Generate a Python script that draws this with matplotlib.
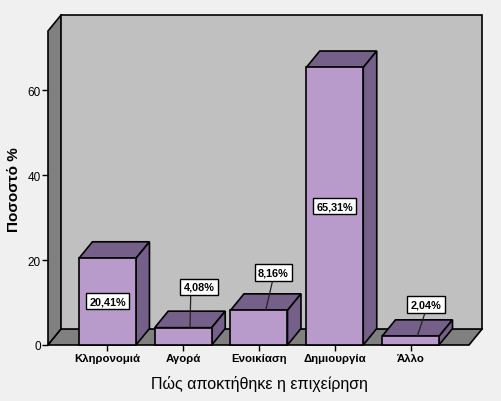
import matplotlib
matplotlib.use("Agg")
import matplotlib.pyplot as plt
from matplotlib.patches import Polygon

categories = ['Κληρονομιά', 'Αγορά', 'Ενοικίαση', 'Δημιουργία', 'Άλλο']
values = [20.41, 4.08, 8.16, 65.31, 2.04]
labels = ['20,41%', '4,08%', '8,16%', '65,31%', '2,04%']
# where the value boxes sit (category position, percent)
label_x = [0.0, 0.21, 0.19, 0.0, 0.205]
label_y = [10.35, 13.7, 17.1, 32.7, 9.5]
leader = [False, True, True, False, True]
# where the leader leaves the bottom edge of the box
leader_rel = [0.5, 0.23, 0.5, 0.5, 0.5]

plt.rcParams['font.family'] = ['Liberation Sans', 'DejaVu Sans']

fig = plt.figure(figsize=(5.02, 4.02), dpi=100, facecolor='#f0f0f0')
ax = fig.add_axes([48 / 502, 56 / 402, 421 / 502, 314 / 402])
ax.patch.set_visible(False)
ax.set_xlim(-0.785, 4.772)
ax.set_ylim(0, 73.9)

# depth of the fake 3d, in data units
dx = 0.178
dy = 3.88
width = 0.7525
x0, x1 = ax.get_xlim()
ytop = ax.get_ylim()[1]


def face(pts, color, z=1):
    ax.add_patch(Polygon(pts, closed=True, facecolor=color, edgecolor='black',
                         linewidth=1.2, joinstyle='miter', clip_on=False, zorder=z))


# walls and floor
face([(x0, 0), (x0 + dx, dy), (x0 + dx, ytop + dy), (x0, ytop)], '#808080')
face([(x0, 0), (x1, 0), (x1 + dx, dy), (x0 + dx, dy)], '#808080')
face([(x0 + dx, dy), (x1 + dx, dy), (x1 + dx, ytop + dy), (x0 + dx, ytop + dy)], '#c0c0c0')

# bars
for i, v in enumerate(values):
    l = i - width / 2
    r = i + width / 2
    face([(l, v), (r, v), (r + dx, v + dy), (l + dx, v + dy)], '#75608a', 2)
    face([(r, 0), (r + dx, dy), (r + dx, v + dy), (r, v)], '#75608a', 2)
    ax.bar(i, v, width=width, color='#b89acb', edgecolor='black', linewidth=1.2,
           zorder=3, clip_on=False)

# value boxes
for i, v in enumerate(values):
    box = dict(boxstyle='square,pad=0.3', facecolor='white', edgecolor='black', linewidth=1)
    if leader[i]:
        ax.annotate(labels[i], xy=(i + dx / 2, v), xytext=(i + label_x[i], label_y[i]),
                    ha='center', va='center', fontsize=7.8, fontweight='bold', bbox=box,
                    arrowprops=dict(arrowstyle='-', color='#222222', lw=0.9, shrinkA=0, shrinkB=0,
                                    relpos=(leader_rel[i], 0)),
                    zorder=5, annotation_clip=False)
    else:
        ax.text(i + label_x[i], label_y[i], labels[i], ha='center', va='center',
                fontsize=7.8, fontweight='bold', bbox=box, zorder=5)

for s in ax.spines.values():
    s.set_visible(False)

ax.set_xticks(range(len(categories)))
ax.set_yticks([0, 20, 40, 60])
ax.tick_params(axis='both', length=4.5, width=1, color='black')
ax.tick_params(axis='x', pad=1.5)
ax.tick_params(axis='y', pad=0.5, labelsize=8.5)
ax.set_xticklabels(categories, fontsize=8.2, fontweight='bold')

fig.text(259 / 502, 1 - 384 / 402, 'Πώς αποκτήθηκε η επιχείρηση', ha='center', va='center',
         fontsize=11.5)
fig.text(14 / 502, 1 - 190 / 402, 'Ποσοστό %', rotation=90, ha='center', va='center',
         fontsize=11, fontweight='bold')

fig.savefig('out.png', dpi=100, facecolor=fig.get_facecolor())
